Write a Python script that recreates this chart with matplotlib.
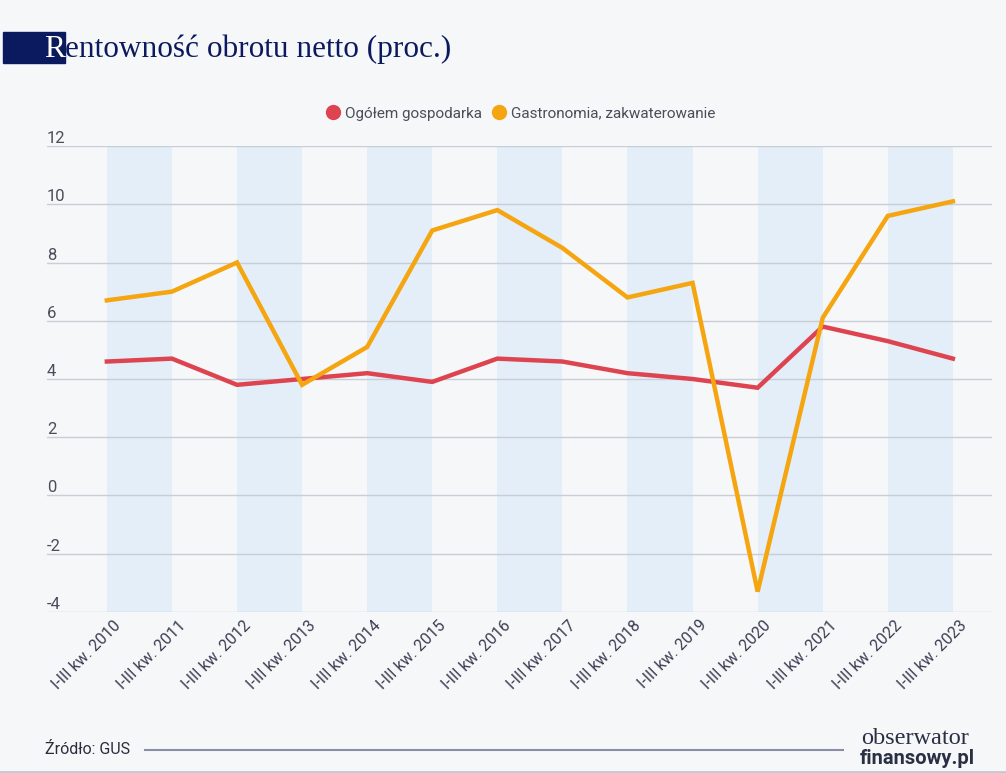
import matplotlib
matplotlib.use("Agg")
import matplotlib.pyplot as plt
import matplotlib.transforms as mtransforms
from matplotlib.lines import Line2D
from matplotlib.patches import Rectangle

# data
years = list(range(2010, 2024))
labels = [f"I-III kw. {y}" for y in years]
ogolem = [4.6, 4.7, 3.8, 4.0, 4.2, 3.9, 4.7, 4.6, 4.2, 4.0, 3.7, 5.8, 5.3, 4.7]
gastro = [6.7, 7.0, 8.0, 3.8, 5.1, 9.1, 9.8, 8.5, 6.8, 7.3, -3.3, 6.1, 9.6, 10.1]
yticks = [-4, -2, 0, 2, 4, 6, 8, 10, 12]

bg = "#f6f7f9"
red = "#de4450"
orange = "#f5a50f"
navy = "#0b1a5e"
band = "#e3eef8"
grid = "#c9cdd6"
txt = "#4a4d5a"

fig = plt.figure(figsize=(10.06, 7.73), dpi=100, facecolor=bg)
ax = fig.add_axes([0.0467, 0.2083, 0.9393, 0.6028], facecolor=bg)

x = list(range(len(years)))
for i in range(0, len(x) - 1, 2):
    ax.axvspan(x[i], x[i + 1], color=band, lw=0, zorder=0)

for t in yticks:
    ax.axhline(t, color=grid, lw=1, zorder=1)
    ax.text(0.0, t, str(t), transform=ax.get_yaxis_transform(), ha="left",
            va="bottom", fontsize=12, color=txt, family="Roboto")

ax.plot(x, ogolem, color=red, lw=3.2, zorder=3, solid_joinstyle="miter")
ax.plot(x, gastro, color=orange, lw=3.2, zorder=4, solid_joinstyle="miter")

ax.set_xlim(-0.92, 13.6)
ax.set_ylim(-4, 12)
ax.set_yticks([])
ax.set_xticks(x)
ax.set_xticklabels(labels, rotation=45, ha="right", va="top",
                   rotation_mode="anchor", fontsize=11.5, color="#3a3e52",
                   family="Roboto")
ax.tick_params(axis="x", length=0, pad=4)
shift = mtransforms.ScaledTranslation(6 / 100, 0, fig.dpi_scale_trans)
for lab in ax.get_xticklabels():
    lab.set_transform(lab.get_transform() + shift)
for s in ax.spines.values():
    s.set_visible(False)

# legend
handles = [Line2D([], [], ls="", marker="o", ms=10, color=red),
           Line2D([], [], ls="", marker="o", ms=10, color=orange)]
fig.legend(handles, ["Ogółem gospodarka", "Gastronomia, zakwaterowanie"],
           loc="center", bbox_to_anchor=(0.517, 0.853), ncol=2, frameon=False,
           handletextpad=0.3, columnspacing=0.6, handlelength=1.0,
           prop={"family": "Roboto", "size": 11}, labelcolor=txt)

# title with navy block behind the first letter
fig.patches.append(Rectangle((3 / 1006, 1 - 63 / 773), 62 / 1006, 31 / 773,
                             transform=fig.transFigure, color=navy, zorder=0))
t1 = fig.text(44 / 1006, 1 - 64 / 773, "R", fontsize=22.5, color="white",
              family="Liberation Serif", va="bottom", ha="left")
fig.add_artist(plt.Annotation("entowność obrotu netto (proc.)", xy=(1, 0),
                              xycoords=t1, va="bottom", ha="left",
                              fontsize=22.5, color=navy,
                              family="Liberation Serif"))

# footer
fig.text(45 / 1006, 1 - 750 / 773, "Źródło: GUS", fontsize=11.5, color="#2a2d3e",
         family="Roboto", va="center", ha="left")
fig.add_artist(Line2D([145 / 1006, 843 / 1006], [1 - 750 / 773, 1 - 750 / 773],
                      transform=fig.transFigure, color="#8a8fa6", lw=1.5))
fig.text(915 / 1006, 1 - 739 / 773, "obserwator", fontsize=17.5, color="#2b2f44",
         family="Liberation Serif", va="center", ha="center")
fig.text(917 / 1006, 1 - 759 / 773, "finansowy.pl", fontsize=14.5, color="#2b2f44",
         family="Roboto", weight="bold", va="center", ha="center")
fig.add_artist(Line2D([0, 1], [1.5 / 773, 1.5 / 773], transform=fig.transFigure,
                      color="#c5c8d0", lw=2))

fig.savefig("out.png", dpi=100, facecolor=bg)
